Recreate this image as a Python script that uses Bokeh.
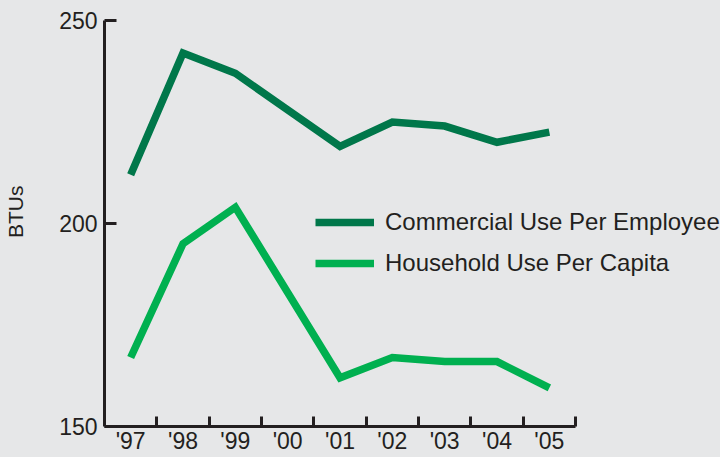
from bokeh.plotting import figure
from bokeh.models import FixedTicker, Range1d, Legend, LegendItem
from bokeh.embed import file_html
from bokeh.resources import INLINE

years = ["'97", "'98", "'99", "'00", "'01", "'02", "'03", "'04", "'05"]
commercial = [212, 242, 237, 228, 219, 225, 224, 220, 222.5]
household = [167, 195, 204, 183, 162, 167, 166, 166, 159.5]
y_ticks = [150, 200, 250]

BG = "#e6e7e8"
TXT = "#231f20"
FONT = "Liberation Sans"

xs = list(range(len(years)))

p = figure(width=720, height=457, output_backend="svg", toolbar_location=None,
           x_range=Range1d(-0.5, 11.27), y_range=Range1d(150, 250),
           min_border_left=104, min_border_right=0, min_border_top=20, min_border_bottom=31)
p.background_fill_color = BG
p.border_fill_color = BG
p.outline_line_color = None
p.grid.visible = False

r1 = p.line(xs, commercial, line_color="#00774a", line_width=7.5, line_join="miter")
r2 = p.line(xs, household, line_color="#00b050", line_width=7.5, line_join="miter")

xa = p.xaxis[0]
xa.bounds = (-0.5, len(years) - 0.5)
xa.ticker = FixedTicker(ticks=xs, minor_ticks=[i + 0.5 for i in xs])
xa.major_label_overrides = {i: y for i, y in enumerate(years)}
xa.major_tick_in = 0
xa.major_tick_out = 0
xa.minor_tick_in = 10
xa.minor_tick_out = 0
xa.minor_tick_line_width = 3
xa.minor_tick_line_color = TXT
xa.axis_line_width = 3
xa.axis_line_color = TXT
xa.major_label_text_font = FONT
xa.major_label_text_font_size = "23px"
xa.major_label_text_color = TXT
xa.major_label_standoff = 1

ya = p.yaxis[0]
ya.ticker = FixedTicker(ticks=y_ticks, minor_ticks=[])
ya.major_tick_in = 12
ya.major_tick_out = 0
ya.major_tick_line_width = 3
ya.major_tick_line_color = TXT
ya.axis_line_width = 3
ya.axis_line_color = TXT
ya.major_label_text_font = FONT
ya.major_label_text_font_size = "23px"
ya.major_label_text_color = TXT
ya.major_label_standoff = 7
ya.axis_label = "\u00a0\u00a0\u00a0\u00a0BTUs"
ya.axis_label_text_font = FONT
ya.axis_label_text_font_size = "21px"
ya.axis_label_text_font_style = "normal"
ya.axis_label_text_color = TXT
ya.axis_label_standoff = 29

legend = Legend(items=[LegendItem(label="Commercial Use Per Employee", renderers=[r1]),
                       LegendItem(label="Household Use Per Capita", renderers=[r2])],
                location=(211, 148))
legend.background_fill_alpha = 0
legend.border_line_color = None
legend.padding = 0
legend.margin = 0
legend.spacing = 11
legend.glyph_width = 59
legend.glyph_height = 30
legend.label_height = 30
legend.label_standoff = 11
legend.label_text_font = FONT
legend.label_text_font_size = "24px"
legend.label_text_color = TXT
p.add_layout(legend, "center")

html = file_html(p, INLINE)
html = html.replace("</head>", "<style>body{background:#e6e7e8;}</style></head>")
open("out.html", "w").write(html)
